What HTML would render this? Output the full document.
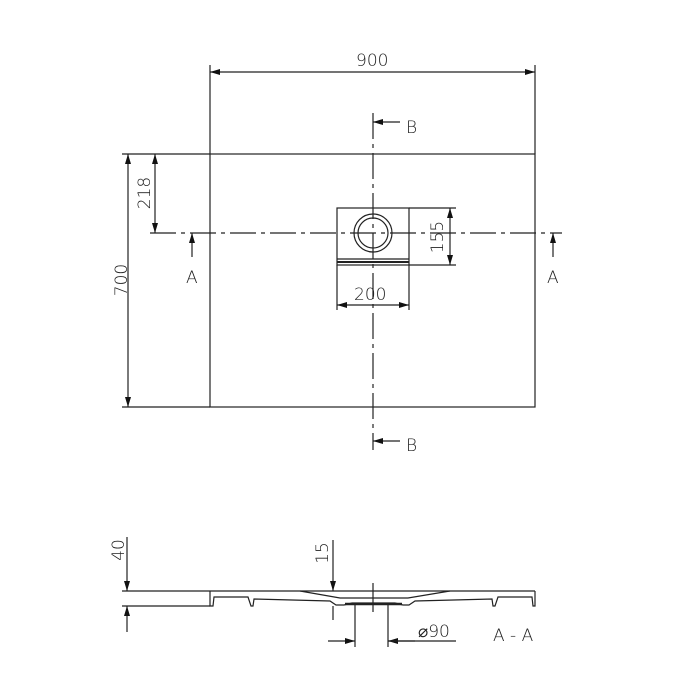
<!DOCTYPE html>
<html><head><style>
html,body{margin:0;padding:0;background:#fff;}
svg{display:block}
text{font-family:"DejaVu Sans","Liberation Sans",sans-serif;font-size:17px;fill:#222;font-weight:300}
</style></head><body>
<svg width="700" height="700" viewBox="0 0 700 700" xmlns="http://www.w3.org/2000/svg">
<defs>
<marker id="a" viewBox="0 0 10 6" refX="10" refY="3" markerWidth="10" markerHeight="6" orient="auto-start-reverse" markerUnits="userSpaceOnUse"><path d="M0,0 L10,3 L0,6 z" fill="#111"/></marker>
</defs>
<g stroke="#222" stroke-width="1.2" fill="none">
<!-- plate -->
<rect x="210" y="154" width="325" height="253"/>
<!-- 900 dim -->
<line x1="210" y1="65" x2="210" y2="154"/>
<line x1="535" y1="65" x2="535" y2="154"/>
<line x1="210" y1="72" x2="535" y2="72" marker-start="url(#a)" marker-end="url(#a)"/>
<!-- 700 dim -->
<line x1="122" y1="154" x2="210" y2="154"/>
<line x1="122" y1="407" x2="210" y2="407"/>
<line x1="128" y1="154" x2="128" y2="407" marker-start="url(#a)" marker-end="url(#a)"/>
<!-- 218 dim -->
<line x1="155" y1="154" x2="155" y2="233" marker-start="url(#a)" marker-end="url(#a)"/>
<!-- centerlines -->
<line x1="150" y1="233" x2="562" y2="233" stroke-dasharray="26,5,4,5"/>
<line x1="373" y1="113" x2="373" y2="450" stroke-dasharray="26,5,4,5"/>
<!-- drain -->
<rect x="337" y="208" width="72" height="57"/>
<line x1="337" y1="259" x2="409" y2="259"/>
<line x1="337" y1="262" x2="409" y2="262" stroke-width="2"/>
<circle cx="373" cy="233" r="19"/>
<circle cx="373" cy="233" r="15"/>
<!-- 155 dim -->
<line x1="409" y1="208" x2="456" y2="208"/>
<line x1="409" y1="265" x2="456" y2="265"/>
<line x1="450" y1="208" x2="450" y2="265" marker-start="url(#a)" marker-end="url(#a)"/>
<!-- 200 dim -->
<line x1="337" y1="265" x2="337" y2="310"/>
<line x1="409" y1="265" x2="409" y2="310"/>
<line x1="337" y1="305" x2="409" y2="305" marker-start="url(#a)" marker-end="url(#a)"/>
<!-- section marks -->
<line x1="400" y1="122" x2="373" y2="122" marker-end="url(#a)"/>
<line x1="400" y1="441" x2="373" y2="441" marker-end="url(#a)"/>
<line x1="192" y1="257" x2="192" y2="233" marker-end="url(#a)"/>
<line x1="553" y1="257" x2="553" y2="233" marker-end="url(#a)"/>
<!-- section view -->
<line x1="122" y1="591" x2="535" y2="591"/>
<line x1="122" y1="606" x2="210" y2="606"/>
<path d="M210,591 L210,606 L213,606 L214,597 L248,597 L251,606 L253,606 L254,599 L330,601 L336,605 L344,605 L352,603 L395,603 L403,605 L409,605 L415,601 L492,599 L493,606 L495,606 L498,597 L532,597 L533,606 L535,606 L535,591"/>
<path d="M300,591 L340,598 L408,598 L450,591"/>
<line x1="345" y1="604" x2="402" y2="604" stroke-width="2.5"/>
<line x1="127" y1="537" x2="127" y2="591" marker-end="url(#a)"/>
<line x1="127" y1="632" x2="127" y2="606" marker-end="url(#a)"/>
<line x1="333" y1="540" x2="333" y2="591" marker-end="url(#a)"/>
<line x1="333" y1="606" x2="333" y2="620"/>
<line x1="373" y1="583" x2="373" y2="612"/>
<line x1="355" y1="603" x2="355" y2="647"/>
<line x1="388" y1="603" x2="388" y2="647"/>
<line x1="328" y1="641" x2="355" y2="641" marker-end="url(#a)"/>
<line x1="415" y1="641" x2="388" y2="641" marker-end="url(#a)"/>
<line x1="388" y1="641" x2="456" y2="641"/>
</g>
<text x="356" y="66">900</text>
<text x="406" y="133">B</text>
<text x="406" y="451">B</text>
<text x="186" y="283">A</text>
<text x="547" y="283">A</text>
<text x="354" y="300">200</text>
<text transform="translate(127,280) rotate(-90)" text-anchor="middle">700</text>
<text transform="translate(150,193) rotate(-90)" text-anchor="middle">218</text>
<text transform="translate(443,237) rotate(-90)" text-anchor="middle">155</text>
<text transform="translate(124,550) rotate(-90)" text-anchor="middle">40</text>
<text transform="translate(328,553) rotate(-90)" text-anchor="middle">15</text>
<text x="418" y="637">⌀90</text>
<text x="493" y="641">A - A</text>
</svg>
</body></html>
